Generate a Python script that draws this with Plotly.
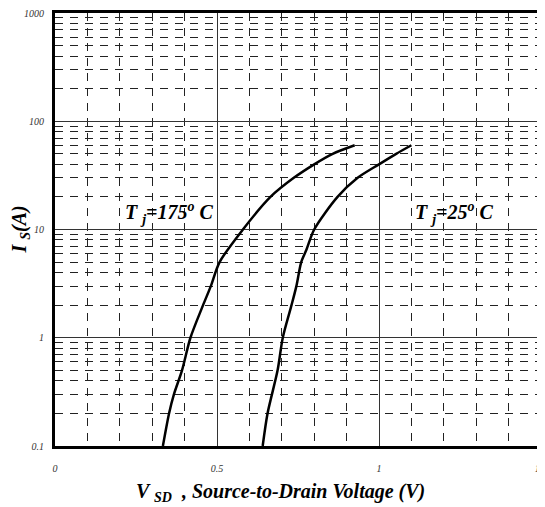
import plotly.graph_objects as go

# Data
v_175 = [0.333, 0.352, 0.367, 0.392, 0.418, 0.457, 0.481, 0.508, 0.58, 0.665, 0.737, 0.80, 0.857, 0.925]
i_175 = [0.1, 0.2, 0.3, 0.5, 1, 2, 3, 5, 10, 20, 30, 40, 50, 60]
v_25 = [0.641, 0.656, 0.687, 0.703, 0.73, 0.745, 0.76, 0.776, 0.80, 0.872, 0.934, 1.0, 1.053, 1.10]
i_25 = [0.1, 0.2, 0.5, 1, 2, 3, 5, 6.5, 10, 20, 30, 40, 50, 60]

x_ticks = [0, 0.5, 1, 1.5]
x_ticklabels = ["0", "0.5", "1", "1.5"]
y_ticks = [0.1, 1, 10, 100, 1000]
y_ticklabels = ["0.1", "1", "10", "100", "1000"]

serif = "Liberation Serif"
bold_it = dict(family=serif, color="black", weight="bold", style="italic")

fig = go.Figure()
for v, i in [(v_175, i_175), (v_25, i_25)]:
    fig.add_trace(go.Scatter(x=v, y=i, mode="lines",
                             line=dict(color="black", width=2.5, shape="spline", smoothing=0.8),
                             showlegend=False, hoverinfo="skip"))

fig.add_annotation(x=0.354, y=1.157, xref="x", yref="y", text="T <sub>j</sub>=175<sup>o</sup> C",
                   showarrow=False, font=dict(size=20, **bold_it))
fig.add_annotation(x=1.233, y=1.157, xref="x", yref="y", text="T <sub>j</sub>=25<sup>o</sup> C",
                   showarrow=False, font=dict(size=20, **bold_it))

# axis titles
fig.add_annotation(x=0.463, y=-0.1085, xref="paper", yref="paper", yanchor="middle",
                   text="V <sub>SD</sub>  , Source-to-Drain Voltage (V)",
                   showarrow=False, font=dict(size=20, **bold_it))
fig.add_annotation(x=-0.072, y=0.5, xref="paper", yref="paper", xanchor="center", yanchor="middle",
                   text="I <sub>S</sub>(A)", textangle=-90,
                   showarrow=False, font=dict(size=20, **bold_it))

# page body has an 8px default margin, so the figure is sized to fit inside it
fig.update_layout(
    width=537, height=499,
    margin=dict(l=47, r=4, t=5, b=61),
    paper_bgcolor="white", plot_bgcolor="white",
    xaxis=dict(
        range=[0, 1.5], tickvals=x_ticks, ticktext=x_ticklabels,
        showgrid=True, gridcolor="#333333", gridwidth=1,
        showline=True, linecolor="black", linewidth=3, mirror=True,
        zeroline=False, ticks="", ticklabelstandoff=11, automargin=False,
        ticklabeloverflow="allow",
        tickfont=dict(family=serif, size=10, color="#333333", style="italic"),
        minor=dict(dtick=0.1, showgrid=True, gridcolor="#222222", gridwidth=1, griddash="8px,7px"),
    ),
    yaxis=dict(
        type="log", range=[-1, 3], tickvals=y_ticks, ticktext=y_ticklabels,
        showgrid=True, gridcolor="#333333", gridwidth=1,
        showline=True, linecolor="black", linewidth=3, mirror=True,
        zeroline=False, ticks="", ticklabelstandoff=6, automargin=False,
        ticklabeloverflow="allow",
        tickfont=dict(family=serif, size=10, color="#333333", style="italic"),
        minor=dict(dtick="D1", showgrid=True, gridcolor="#222222", gridwidth=1, griddash="8px,7px"),
    ),
)

fig.write_html("out.html")
